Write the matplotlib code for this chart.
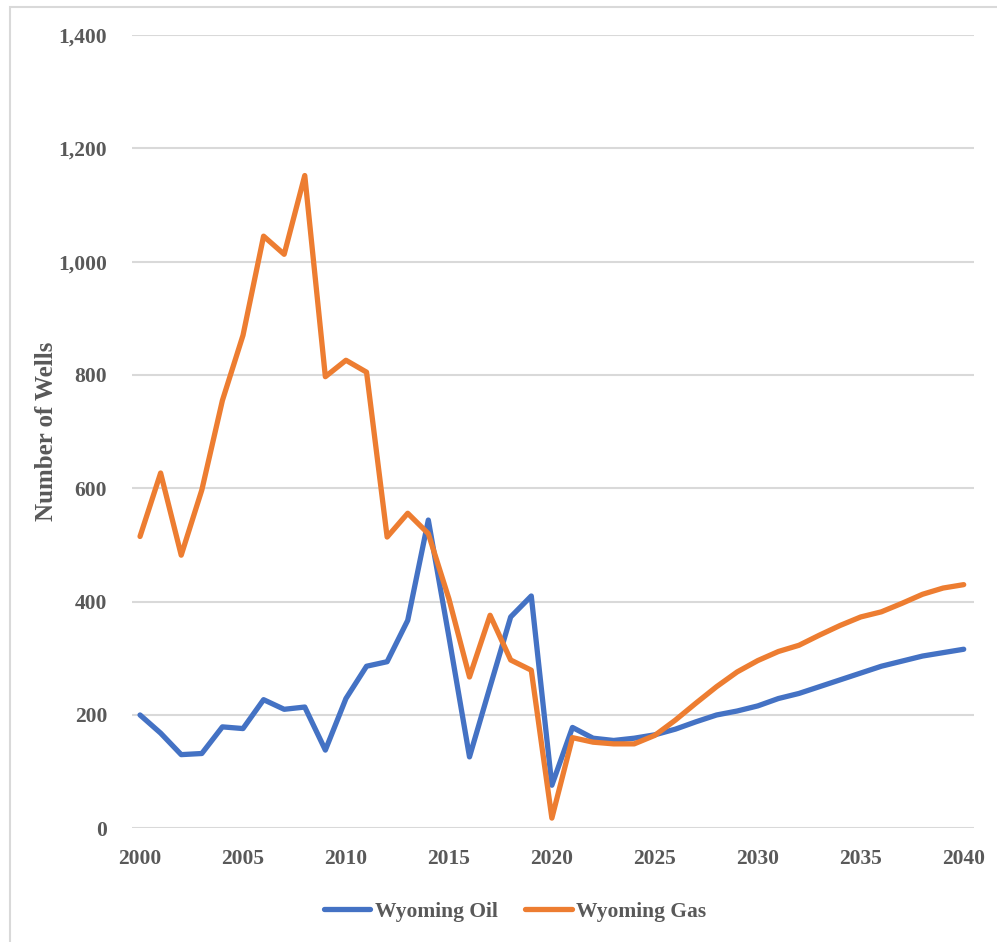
import matplotlib.pyplot as plt
from matplotlib.patches import Rectangle

years = list(range(2000, 2041))

wyoming_oil = [200, 168, 130, 132, 179, 176, 227, 210, 214, 138,
               229, 286, 294, 367, 544, 338, 126, 250, 373, 410,
               76, 178, 159, 155, 159, 165, 175, 188, 200, 207,
               216, 229, 238, 250, 262, 274, 286, 295, 304, 310,
               316]

wyoming_gas = [515, 627, 482, 597, 755, 870, 1045, 1013, 1152, 797,
               826, 805, 514, 556, 520, 405, 267, 376, 297, 279,
               18, 160, 152, 149, 149, 164, 191, 221, 250, 276,
               296, 312, 323, 341, 358, 373, 382, 397, 413, 424,
               430]

yticks = [0, 200, 400, 600, 800, 1000, 1200, 1400]
xticks = [2000, 2005, 2010, 2015, 2020, 2025, 2030, 2035, 2040]

text_color = '#595959'
plt.rcParams['font.family'] = ['Liberation Serif', 'DejaVu Serif']
plt.rcParams['font.weight'] = 'bold'

fig = plt.figure(figsize=(9.97, 9.42), dpi=100)
W, H = 997, 942
ax = fig.add_axes([132 / W, 1 - 828.3 / H, (974 - 132) / W, (828.3 - 35) / H])

ax.plot(years, wyoming_oil, color='#4472C4', lw=3.8, label='Wyoming Oil',
        solid_joinstyle='round', solid_capstyle='round')
ax.plot(years, wyoming_gas, color='#ED7D31', lw=3.8, label='Wyoming Gas',
        solid_joinstyle='round', solid_capstyle='round')

ax.set_xlim(2000 - 0.39, 2040 + 0.5)
ax.set_ylim(0, 1400)
ax.set_yticks(yticks)
ax.set_yticklabels([f'{v:,}' for v in yticks])
ax.set_xticks(xticks)
ax.tick_params(axis='both', length=0, labelsize=15.5, labelcolor=text_color)
ax.tick_params(axis='y', pad=18)
ax.tick_params(axis='x', pad=15)
for lab in ax.get_xticklabels() + ax.get_yticklabels():
    lab.set_fontweight('bold')

ax.grid(axis='y', color='#D9D9D9', lw=1.5)
ax.set_axisbelow(True)
for s in ax.spines.values():
    s.set_visible(False)

ax.set_ylabel('Number of Wells', fontsize=18, fontweight='bold', color=text_color)
ax.yaxis.set_label_coords((58 - 132) / 842, 0.5)

leg = ax.legend(loc='center', bbox_to_anchor=(0.455, -0.105), ncol=2, frameon=False,
                fontsize=15.5, handlelength=2.15, columnspacing=1.3, handletextpad=0.2)
for t in leg.get_texts():
    t.set_color(text_color)
    t.set_fontweight('bold')

# light border of the chart area
fig.patches.append(Rectangle((10 / W, -0.1), 1.2, 1 - 7 / H + 0.1, transform=fig.transFigure,
                             fill=False, edgecolor='#D9D9D9', lw=1.5))

fig.savefig('out.png', dpi=100)
